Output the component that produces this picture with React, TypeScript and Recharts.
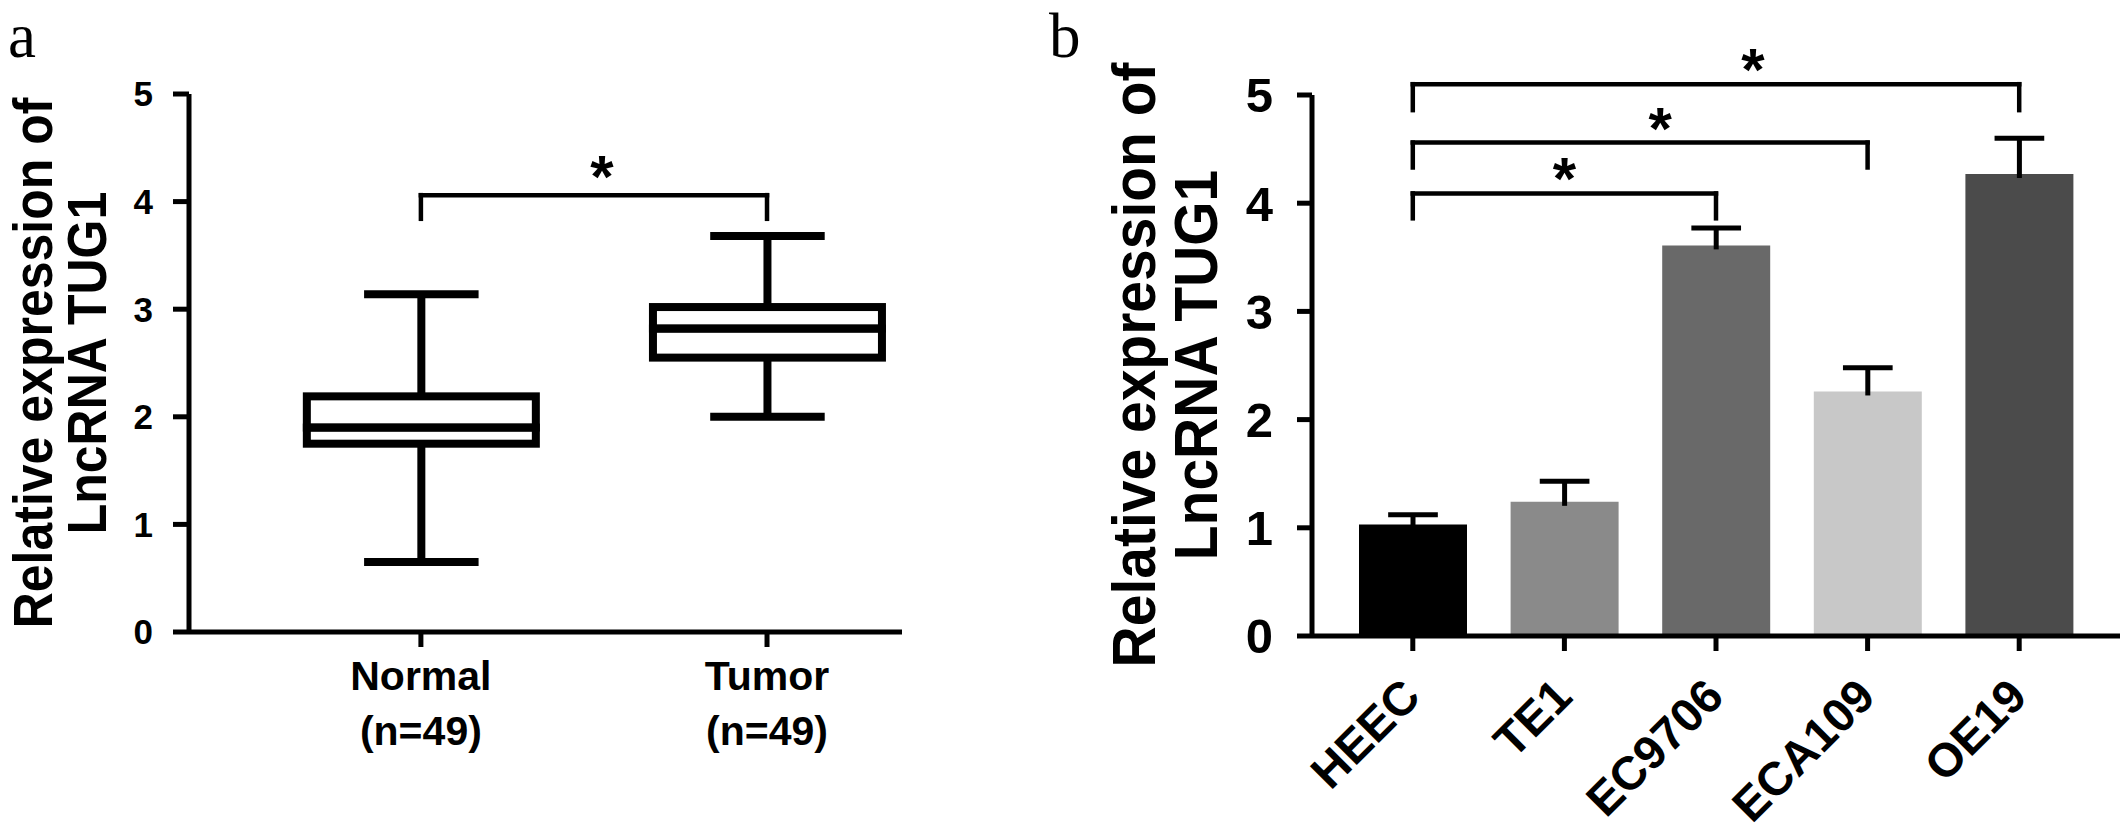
import React from "react";
import {
  Bar,
  BarChart,
  Cell,
  ComposedChart,
  ReferenceLine,
  XAxis,
  YAxis,
} from "recharts";

const FONT = '"Liberation Sans", Arial, sans-serif';

// panel a - box plot
const groups = ["Normal", "Tumor"];
const groupN = [49, 49];
const whiskerLow = [0.65, 2.0];
const q1 = [1.75, 2.55];
const median = [1.9, 2.82];
const q3 = [2.19, 3.02];
const whiskerHigh = [3.14, 3.68];
const sigA = { from: 1, to: 2, y: 4.06, drop: 3.84 };

// panel b - bars with SEM
const cellLines = ["HEEC", "TE1", "EC9706", "ECA109", "OE19"];
const meanExpr = [1.03, 1.24, 3.61, 2.26, 4.27];
const errExpr = [0.09, 0.19, 0.16, 0.22, 0.33];
const barColors = ["#000000", "#8a8a8a", "#696969", "#c8c8c8", "#4b4b4b"];
const sigTo = ["EC9706", "ECA109", "OE19"];
const sigY = [4.09, 4.56, 5.1];
const sigDrop = [3.86, 4.33, 4.86];
const starShift = [0, 20, 37];

const yTicks = [0, 1, 2, 3, 4, 5];

const boxRows = groups.map((g, i) => ({
  pos: i + 1,
  base: whiskerLow[i],
  lowW: q1[i] - whiskerLow[i],
  lowBox: median[i] - q1[i],
  highBox: q3[i] - median[i],
  highW: whiskerHigh[i] - q3[i],
}));

const barRows = cellLines.map((name, i) => ({
  name,
  mean: meanExpr[i],
  err: errExpr[i],
}));

const Empty = () => <g />;

const LowerWhisker = (p: any) => {
  const cx = p.x + p.width / 2;
  const half = p.width / 4;
  return (
    <g stroke="#000" strokeWidth={8}>
      <line x1={cx} x2={cx} y1={p.y} y2={p.y + p.height} />
      <line x1={cx - half} x2={cx + half} y1={p.y + p.height} y2={p.y + p.height} />
    </g>
  );
};

const UpperWhisker = (p: any) => {
  const cx = p.x + p.width / 2;
  const half = p.width / 4;
  return (
    <g stroke="#000" strokeWidth={8}>
      <line x1={cx} x2={cx} y1={p.y} y2={p.y + p.height} />
      <line x1={cx - half} x2={cx + half} y1={p.y} y2={p.y} />
    </g>
  );
};

const BoxPart = (p: any) => (
  <rect
    x={p.x}
    y={p.y}
    width={p.width}
    height={p.height}
    fill="none"
    stroke="#000"
    strokeWidth={8}
    strokeLinejoin="miter"
  />
);

const ErrorCap = (p: any) => {
  const cx = p.x + p.width / 2;
  const half = p.width * 0.23;
  return (
    <g stroke="#000" strokeWidth={5}>
      <line x1={cx} x2={cx} y1={p.y} y2={p.y + p.height + 4} />
      <line x1={cx - half} x2={cx + half} y1={p.y} y2={p.y} />
    </g>
  );
};

const makeStar = (shift: number, lift: number) => (props: any) => {
  const vb = props.viewBox || { x: 0, y: 0, width: 0 };
  return (
    <text
      x={vb.x + vb.width / 2 + shift}
      y={vb.y + lift}
      textAnchor="middle"
      fontFamily={FONT}
      fontWeight={700}
      fontSize={60}
      fill="#000"
    >
      *
    </text>
  );
};

const makeTitle =
  (letter: string, letterX: number, cy: number, x1: number, x2: number, size: number, stretch: number) =>
  () => (
    <g fill="#000">
      <text x={letterX} y={57} fontFamily='"Liberation Serif", "Times New Roman", serif' fontSize={63}>
        {letter}
      </text>
      <g fontFamily={FONT} fontWeight={700} fontSize={size}>
        <text transform={`translate(${x1},${cy}) rotate(-90) scale(1,${stretch})`} textAnchor="middle">
          Relative expression of
        </text>
        <text transform={`translate(${x2},${cy}) rotate(-90) scale(1,${stretch})`} textAnchor="middle">
          LncRNA TUG1
        </text>
      </g>
    </g>
  );

const GroupTick = ({ x, y, payload }: any) => {
  const i = Math.round(payload.value) - 1;
  return (
    <g fontFamily={FONT} fontWeight={700} fontSize={41} fill="#000">
      <text x={x} y={y + 43} textAnchor="middle">
        {groups[i]}
      </text>
      <text x={x} y={y + 98} textAnchor="middle">
        (n={groupN[i]})
      </text>
    </g>
  );
};

const LineTick = ({ x, y, payload }: any) => (
  <text
    transform={`translate(${x + 10},${y + 48}) rotate(-45)`}
    textAnchor="end"
    fontFamily={FONT}
    fontWeight={700}
    fontSize={47}
    fill="#000"
  >
    {payload.value}
  </text>
);

const axisStroke = { stroke: "#000", strokeWidth: 5 };
const refStyle = { stroke: "#000", strokeWidth: 4.5, strokeLinecap: "square" as const, ifOverflow: "visible" as const };

export default function App() {
  return (
    <div style={{ position: "absolute", left: 0, top: 0, width: 2128, height: 835, background: "#fff" }}>
      <div style={{ position: "absolute", left: 0, top: 0 }}>
        <ComposedChart width={910} height={835} data={boxRows} margin={{ top: 94, right: 8, bottom: 0, left: 0 }}>
          <XAxis
            type="number"
            dataKey="pos"
            domain={[0.33, 2.39]}
            ticks={[1, 2]}
            allowDataOverflow
            height={203}
            tickSize={15}
            tickMargin={0}
            axisLine={axisStroke}
            tickLine={axisStroke}
            tick={<GroupTick />}
          />
          <YAxis
            domain={[0, 5]}
            ticks={yTicks}
            width={189}
            tickSize={16}
            tickMargin={20}
            axisLine={axisStroke}
            tickLine={axisStroke}
            tick={{ fill: "#000", fontSize: 35, fontWeight: 700, fontFamily: FONT }}
            label={makeTitle("a", 8, 363, 52, 106, 50, 1.12)}
          />
          <Bar dataKey="base" stackId="box" barSize={229} shape={<Empty />} isAnimationActive={false} />
          <Bar dataKey="lowW" stackId="box" barSize={229} shape={<LowerWhisker />} isAnimationActive={false} />
          <Bar dataKey="lowBox" stackId="box" barSize={229} shape={<BoxPart />} isAnimationActive={false} />
          <Bar dataKey="highBox" stackId="box" barSize={229} shape={<BoxPart />} isAnimationActive={false} />
          <Bar dataKey="highW" stackId="box" barSize={229} shape={<UpperWhisker />} isAnimationActive={false} />
          <ReferenceLine segment={[{ x: sigA.from, y: sigA.drop }, { x: sigA.from, y: sigA.y }]} {...refStyle} />
          <ReferenceLine
            segment={[{ x: sigA.from, y: sigA.y }, { x: sigA.to, y: sigA.y }]}
            {...refStyle}
            label={makeStar(8, 2)}
          />
          <ReferenceLine segment={[{ x: sigA.to, y: sigA.y }, { x: sigA.to, y: sigA.drop }]} {...refStyle} />
        </ComposedChart>
      </div>

      <div style={{ position: "absolute", left: 1040, top: 0 }}>
        <BarChart width={1088} height={835} data={barRows} margin={{ top: 95, right: 8, bottom: 0, left: 0 }}>
          <XAxis
            dataKey="name"
            interval={0}
            padding={{ left: 25, right: 25 }}
            height={199}
            tickSize={15}
            tickMargin={0}
            axisLine={axisStroke}
            tickLine={axisStroke}
            tick={<LineTick />}
          />
          <YAxis
            domain={[0, 5]}
            ticks={yTicks}
            width={272}
            tickSize={15}
            tickMargin={24}
            axisLine={axisStroke}
            tickLine={axisStroke}
            tick={{ fill: "#000", fontSize: 49, fontWeight: 700, fontFamily: FONT }}
            label={makeTitle("b", 9, 365, 115, 177, 57, 1.07)}
          />
          <Bar dataKey="mean" stackId="s" barSize={108} isAnimationActive={false}>
            {barRows.map((_, i) => (
              <Cell key={i} fill={barColors[i]} />
            ))}
          </Bar>
          <Bar dataKey="err" stackId="s" barSize={108} shape={<ErrorCap />} isAnimationActive={false} />
          {sigTo.map((to, i) => (
            <ReferenceLine
              key={`l${i}`}
              segment={[{ x: cellLines[0], y: sigDrop[i] }, { x: cellLines[0], y: sigY[i] }]}
              {...refStyle}
            />
          ))}
          {sigTo.map((to, i) => (
            <ReferenceLine
              key={`h${i}`}
              segment={[{ x: cellLines[0], y: sigY[i] }, { x: to, y: sigY[i] }]}
              {...refStyle}
              label={makeStar(starShift[i], 6)}
            />
          ))}
          {sigTo.map((to, i) => (
            <ReferenceLine
              key={`r${i}`}
              segment={[{ x: to, y: sigY[i] }, { x: to, y: sigDrop[i] }]}
              {...refStyle}
            />
          ))}
        </BarChart>
      </div>
    </div>
  );
}
